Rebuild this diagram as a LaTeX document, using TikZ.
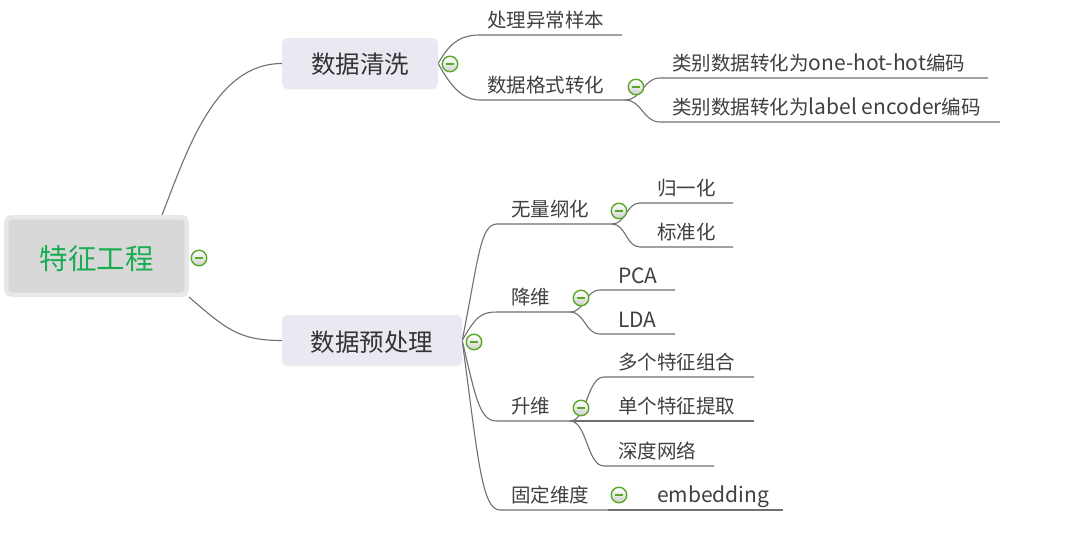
\documentclass[tikz,border=0pt]{standalone}
\usepackage{fontspec}
\setmainfont{Noto Sans CJK SC}
\newcommand{\lat}[1]{{\fontsize{21}{22}\selectfont #1}}
\newcommand{\shiftdown}[2]{\raisebox{-#1}[\height][\depth]{#2}}
\definecolor{linec}{RGB}{112,112,112}
\definecolor{txt}{RGB}{64,64,64}
\definecolor{boxtxt}{RGB}{51,51,51}
\definecolor{boxc}{RGB}{233,233,242}
\definecolor{rootfill}{RGB}{216,216,216}
\definecolor{rootborder}{RGB}{232,232,232}
\definecolor{roottxt}{RGB}{26,172,82}
\definecolor{togc}{RGB}{88,168,36}
\pgfdeclarelayer{bgwhite}
\pgfdeclarelayer{links}
\pgfsetlayers{bgwhite,links,main}
\begin{document}
\begin{tikzpicture}[x=1pt,y=-1pt,
  conn/.style={draw=linec, line width=1.1pt},
  topic/.style={anchor=base west, inner sep=0pt, text=txt, font=\fontsize{19.5}{21}\selectfont},
  box/.style={fill=boxc, rounded corners=6pt, text=boxtxt, font=\fontsize{24.5}{26}\selectfont, inner sep=0pt},
  rootbox/.style={draw=rootborder, line width=4.5pt, fill=rootfill, rounded corners=5pt,
      minimum width=180.5pt, minimum height=77.5pt, inner sep=0pt,
      text=roottxt, font=\fontsize{28.5}{30}\selectfont},
  tog/.style={circle, draw=togc, line width=1.4pt, minimum size=15.5pt, inner sep=0pt,
    top color=white, bottom color=black!18,
    path picture={\draw[togc, line width=1.7pt] ([xshift=-4.3pt]path picture bounding box.center) -- ([xshift=4.3pt]path picture bounding box.center);}}
]
\begin{pgfonlayer}{bgwhite}
\fill[white] (0,0) rectangle (1073,541);
\end{pgfonlayer}
\useasboundingbox (0,0) rectangle (1073,541);

% main nodes
\node[rootbox] (root) at (96.5,256) {\shiftdown{3pt}{特征工程}};
\node[box, minimum width=156pt, minimum height=51pt] (clean) at (360,63.5) {\shiftdown{1pt}{数据清洗}};
\node[box, minimum width=180pt, minimum height=51pt] (prep) at (372,340.5) {\shiftdown{2pt}{数据预处理}};

% underline coordinates
\coordinate (c1s) at (480,35);  \coordinate (c1e) at (622,35);
\coordinate (c2s) at (480,100); \coordinate (c2e) at (625,100);
\coordinate (f1s) at (660,78);  \coordinate (f1e) at (988,78);
\coordinate (f2s) at (660,122); \coordinate (f2e) at (1000,122);
\coordinate (p1s) at (497,224); \coordinate (p1e) at (612,224);
\coordinate (p2s) at (497,312); \coordinate (p2e) at (570,312);
\coordinate (p3s) at (497,421); \coordinate (p3e) at (570,421);
\coordinate (p4s) at (500,510); \coordinate (p4e) at (608,510);
\coordinate (n1s) at (640,203); \coordinate (n1e) at (733,203);
\coordinate (n2s) at (640,247); \coordinate (n2e) at (733,247);
\coordinate (d1s) at (600,290); \coordinate (d1e) at (675,290);
\coordinate (d2s) at (600,334); \coordinate (d2e) at (675,334);
\coordinate (u1s) at (604,377); \coordinate (u1e) at (754,377);
\coordinate (u2e) at (754,421);
\coordinate (u3s) at (604,466); \coordinate (u3e) at (714,466);
\coordinate (e1e) at (783,510);

% text nodes
\node[topic] (t_c1) at (487,27) {处理异常样本};
\node[topic] (t_c2) at (487,92) {数据格式转化};
\node[topic] (t_f1) at (672,70) {类别数据转化为\lat{one-hot-hot}编码};
\node[topic] (t_f2) at (672,114) {类别数据转化为\lat{label encoder}编码};
\node[topic] (t_p1) at (511,216) {无量纲化};
\node[topic] (t_p2) at (511,304) {降维};
\node[topic] (t_p3) at (511,413) {升维};
\node[topic] (t_p4) at (511,502) {固定维度};
\node[topic] (t_n1) at (657,195) {归一化};
\node[topic] (t_n2) at (657,239) {标准化};
\node[topic] (t_d1) at (618,283) {\lat{PCA}};
\node[topic] (t_d2) at (618,327) {\lat{LDA}};
\node[topic] (t_u1) at (618,369) {多个特征组合};
\node[topic] (t_u2) at (618,413) {单个特征提取};
\node[topic] (t_u3) at (618,458) {深度网络};
\node[topic] (t_e1) at (657,502) {\lat{embedding}};

% connectors
\begin{pgfonlayer}{links}
\draw[conn] ([xshift=-27pt]root.north east) .. controls +(25,-64) and +(-67,0) .. (clean.west);
\draw[conn] (root.south east) .. controls +(38,33) and +(-42,0) .. (prep.west);

\draw[conn] (clean.east) .. controls +(12,-22) and +(-18,0) .. (c1s) -- (c1e);
\draw[conn] (clean.east) .. controls +(12,22) and +(-18,0) .. (c2s) -- (c2e);
\draw[conn] (c2e) .. controls +(17,0) and +(-17,0) .. (f1s) -- (f1e);
\draw[conn] (c2e) .. controls +(17,0) and +(-17,0) .. (f2s) -- (f2e);

\draw[conn] (prep.east) .. controls +(16,-80) and +(-17,0) .. (p1s) -- (p1e);
\draw[conn] (prep.east) .. controls +(14,-25) and +(-15,0) .. (p2s) -- (p2e);
\draw[conn] (prep.east) .. controls +(14,60) and +(-17,0) .. (p3s) -- (p3e);
\draw[conn] (prep.east) .. controls +(16,120) and +(-18,0) .. (p4s) -- (p4e);

\draw[conn] (p1e) .. controls +(14,0) and +(-14,0) .. (n1s) -- (n1e);
\draw[conn] (p1e) .. controls +(14,0) and +(-14,0) .. (n2s) -- (n2e);
\draw[conn] (p2e) .. controls +(15,0) and +(-15,0) .. (d1s) -- (d1e);
\draw[conn] (p2e) .. controls +(15,0) and +(-15,0) .. (d2s) -- (d2e);
\draw[conn] (p3e) .. controls +(17,0) and +(-17,0) .. (u1s) -- (u1e);
\draw[conn] (p3e) -- (u2e);
\draw[conn] (p3e) .. controls +(17,0) and +(-17,0) .. (u3s) -- (u3e);
\draw[conn] (p4e) -- (e1e);
\end{pgfonlayer}

% toggles
\node[tog] (tRoot) at (199,258) {};
\node[tog] (tClean) at (450,64) {};
\node[tog] (tFmt) at (636,87) {};
\node[tog] (tPrep) at (474,342) {};
\node[tog] (tDim) at (619,211) {};
\node[tog] (tDown) at (581,298) {};
\node[tog] (tUp) at (581,408) {};
\node[tog] (tFix) at (619,495) {};
\end{tikzpicture}
\end{document}
